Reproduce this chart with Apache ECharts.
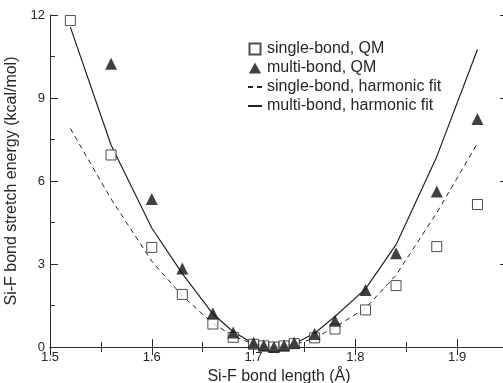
<!DOCTYPE html>
<html>
<head>
<meta charset="utf-8">
<script src="https://cdn.jsdelivr.net/npm/echarts@6/dist/echarts.min.js"></script>
<style>html,body{margin:0;padding:0;background:#fff;}#c{width:503px;height:383px;}</style>
</head>
<body>
<div id="c"></div>
<script>
// QM data
const xQM      = [1.52, 1.56, 1.60, 1.63, 1.66, 1.68, 1.70, 1.71, 1.72, 1.73, 1.74, 1.76, 1.78, 1.81, 1.84, 1.88, 1.92];
const singleQM = [11.8, 6.94, 3.6, 1.9, 0.83, 0.35, 0.1, 0.04, 0.0, 0.04, 0.12, 0.33, 0.65, 1.34, 2.22, 3.63, 5.15];
const multiQM  = [null, 10.24, 5.35, 2.84, 1.22, 0.52, 0.15, 0.05, 0.0, 0.05, 0.15, 0.47, 0.95, 2.06, 3.39, 5.62, 8.24];
// Harmonic fit curves
const xFit      = [1.52, 1.56, 1.60, 1.63, 1.66, 1.68, 1.70, 1.71, 1.72, 1.73, 1.74, 1.76, 1.78, 1.81, 1.84, 1.88, 1.92];
const singleFit = [7.9, 5.35, 3.1, 1.85, 0.85, 0.4, 0.1, 0.02, 0.0, 0.02, 0.08, 0.32, 0.72, 1.4, 2.6, 4.85, 7.36];
const multiFit  = [11.56, 7.3, 4.3, 2.65, 1.2, 0.55, 0.13, 0.03, 0.0, 0.03, 0.12, 0.5, 1.1, 2.1, 3.7, 6.88, 10.75];
// Axis ticks
const xTicks = [1.5, 1.6, 1.7, 1.8, 1.9];
const yTicks = [0, 3, 6, 9, 12];
const seriesNames = ['single-bond, QM', 'multi-bond, QM', 'single-bond, harmonic fit', 'multi-bond, harmonic fit'];

const pairs = (xs, ys) => xs.map((x, i) => [x, ys[i]]).filter(p => p[1] !== null);
const FONT = "'Liberation Sans', Arial, sans-serif";
const AX = '#2a2a2a';
const TXT = '#262626';

const chart = echarts.init(document.getElementById('c'), null, {renderer: 'canvas'});
const xCommon = {
  type: 'value', min: xTicks[0], max: 1.95, interval: 0.1,
  axisLine: {show: true, lineStyle: {color: AX, width: 1}},
  axisTick: {show: true, inside: true, length: 8, lineStyle: {color: AX}},
  minorTick: {show: true, splitNumber: 2, length: 5, lineStyle: {color: AX}},
  splitLine: {show: false}
};
const yCommon = {
  type: 'value', min: yTicks[0], max: yTicks[yTicks.length - 1], interval: 3,
  axisLine: {show: true, lineStyle: {color: AX, width: 1}},
  axisTick: {show: true, inside: true, length: 8, lineStyle: {color: AX}},
  minorTick: {show: true, splitNumber: 2, length: 5, lineStyle: {color: AX}},
  splitLine: {show: false}
};
chart.setOption({
  animation: false,
  backgroundColor: '#fff',
  textStyle: {fontFamily: FONT},
  grid: {left: 50, top: 15, width: 458, height: 332, containLabel: false, outerBoundsMode: 'none'},
  legend: {
    orient: 'vertical', left: 242, top: 36, itemGap: 3,
    itemWidth: 14, itemHeight: 11, symbolKeepAspect: true,
    textStyle: {fontFamily: FONT, fontSize: 16, color: TXT},
    data: [
      {name: seriesNames[0], icon: 'path://M0,0L10,0L10,10L0,10Z'},
      {name: seriesNames[1], icon: 'path://M5,0L10,9L0,9Z'},
      {name: seriesNames[2], itemStyle: {opacity: 0}},
      {name: seriesNames[3], itemStyle: {opacity: 0}}
    ]
  },
  xAxis: [
    Object.assign({}, xCommon, {
      position: 'bottom',
      name: 'Si-F bond length (Å)', nameLocation: 'middle', nameGap: 20,
      nameTextStyle: {fontFamily: FONT, fontSize: 16, color: TXT},
      axisLabel: {show: true, margin: 4, fontSize: 13, color: TXT, fontFamily: FONT,
                  showMaxLabel: false, formatter: v => v.toFixed(1)}
    }),
    Object.assign({}, xCommon, {position: 'top', axisLabel: {show: false}})
  ],
  yAxis: [
    Object.assign({}, yCommon, {
      position: 'left',
      name: 'Si-F bond stretch energy (kcal/mol)', nameLocation: 'middle', nameGap: 18,
      nameTextStyle: {fontFamily: FONT, fontSize: 16, color: TXT},
      axisLabel: {show: true, margin: 5, fontSize: 13, color: TXT, fontFamily: FONT}
    }),
    Object.assign({}, yCommon, {position: 'right', axisLabel: {show: false}})
  ],
  series: [
    {
      name: seriesNames[0], type: 'scatter', symbol: 'rect', symbolSize: 10, z: 3,
      itemStyle: {color: '#fff', borderColor: '#222', borderWidth: 1},
      data: pairs(xQM, singleQM)
    },
    {
      name: seriesNames[1], type: 'scatter', symbol: 'triangle', symbolSize: 12, z: 4,
      itemStyle: {color: '#111'},
      data: pairs(xQM, multiQM)
    },
    {
      name: seriesNames[2], type: 'line', symbol: 'none', showSymbol: false, z: 2,
      lineStyle: {color: '#222', width: 1, type: [5, 4]},
      itemStyle: {color: '#222'},
      data: pairs(xFit, singleFit)
    },
    {
      name: seriesNames[3], type: 'line', symbol: 'none', showSymbol: false, z: 2,
      lineStyle: {color: '#222', width: 1.2},
      itemStyle: {color: '#222'},
      data: pairs(xFit, multiFit)
    }
  ]
});
</script>
</body>
</html>
